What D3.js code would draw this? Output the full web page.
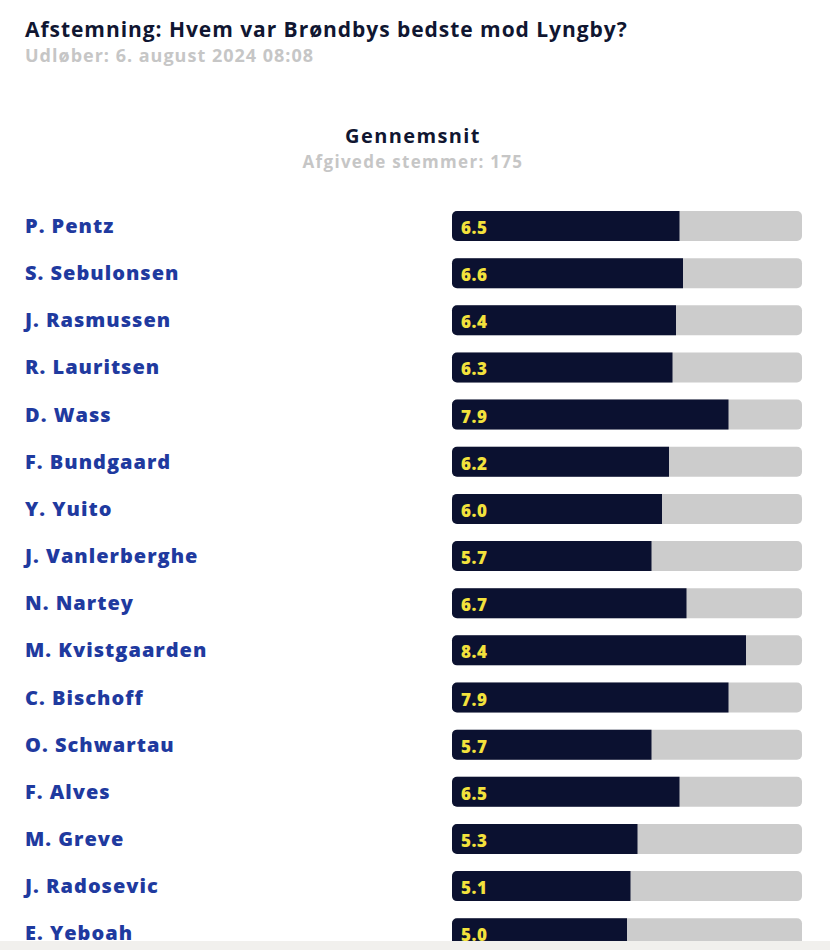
<!DOCTYPE html>
<html>
<head>
<meta charset="utf-8">
<script src="https://cdn.jsdelivr.net/npm/d3@7"></script>
<style>
  body { margin: 0; background: #fff; overflow: hidden; }
  svg text { font-family: "Open Sans", Lato, sans-serif; }
</style>
</head>
<body>
<svg id="chart" width="830" height="950"></svg>
<script>
// poll data
var players = ['P. Pentz', 'S. Sebulonsen', 'J. Rasmussen', 'R. Lauritsen', 'D. Wass',
  'F. Bundgaard', 'Y. Yuito', 'J. Vanlerberghe', 'N. Nartey', 'M. Kvistgaarden',
  'C. Bischoff', 'O. Schwartau', 'F. Alves', 'M. Greve', 'J. Radosevic', 'E. Yeboah'];
var ratings = [6.5, 6.6, 6.4, 6.3, 7.9, 6.2, 6.0, 5.7, 6.7, 8.4, 7.9, 5.7, 6.5, 5.3, 5.1, 5.0];
var maxRating = 10;

var title = 'Afstemning: Hvem var Brøndbys bedste mod Lyngby?';
var subtitle = 'Udløber: 6. august 2024 08:08';
var heading = 'Gennemsnit';
var votes = 'Afgivede stemmer: 175';

var svg = d3.select('#chart');

svg.append('text').attr('x', 25).attr('y', 37)
  .attr('font-size', 21).attr('font-weight', 700).attr('fill', '#101631')
  .attr('letter-spacing', 0.95)
  .text(title);
svg.append('text').attr('x', 25).attr('y', 62)
  .attr('font-size', 18).attr('font-weight', 700).attr('fill', '#c6c6c6')
  .attr('letter-spacing', 1)
  .text(subtitle);

svg.append('text').attr('x', 413).attr('y', 143).attr('text-anchor', 'middle')
  .attr('font-size', 20).attr('font-weight', 700).attr('fill', '#101631')
  .attr('letter-spacing', 1.4)
  .text(heading);
svg.append('text').attr('x', 413).attr('y', 168).attr('text-anchor', 'middle')
  .attr('font-size', 17).attr('font-weight', 700).attr('fill', '#c6c6c6')
  .attr('letter-spacing', 1.3)
  .text(votes);

var step = 47.15, barH = 30;
var y = d3.scaleBand()
  .domain(players)
  .range([211, 211 + step * players.length - (step - barH)])
  .paddingInner((step - barH) / step)
  .paddingOuter(0);

var x = d3.scaleLinear().domain([0, maxRating]).range([452, 802]);

var rows = svg.selectAll('g.row').data(players).enter()
  .append('g').attr('class', 'row');

rows.append('text')
  .attr('x', 25)
  .attr('y', function(d) { return y(d) + 22; })
  .attr('font-size', 20).attr('font-weight', 800).attr('fill', '#1f3a9f')
  .attr('letter-spacing', 1)
  .text(function(d) { return d; });

rows.append('rect')
  .attr('x', x(0)).attr('y', function(d) { return y(d); })
  .attr('width', x(maxRating) - x(0)).attr('height', y.bandwidth())
  .attr('rx', 5).attr('fill', '#cccccc');

// dark fill, rounded on the left only
rows.append('path')
  .attr('fill', '#0b1130')
  .attr('d', function(d, i) {
    var x0 = x(0), x1 = x(ratings[i]), y0 = y(d), h = y.bandwidth(), r = 5;
    return 'M' + (x0 + r) + ',' + y0 + 'H' + x1 + 'V' + (y0 + h) + 'H' + (x0 + r) +
      'A' + r + ',' + r + ' 0 0 1 ' + x0 + ',' + (y0 + h - r) + 'V' + (y0 + r) +
      'A' + r + ',' + r + ' 0 0 1 ' + (x0 + r) + ',' + y0 + 'Z';
  });

rows.append('text')
  .attr('x', x(0) + 9)
  .attr('y', function(d) { return y(d) + 23; })
  .attr('font-size', 17).attr('font-weight', 800).attr('fill', '#f3e23c')
  .attr('letter-spacing', 0.5)
  .text(function(d, i) { return ratings[i].toFixed(1); });

// page footer strip
svg.append('rect').attr('x', 0).attr('y', 941).attr('width', 830).attr('height', 9)
  .attr('fill', '#f1f0ed');
</script>
</body>
</html>
